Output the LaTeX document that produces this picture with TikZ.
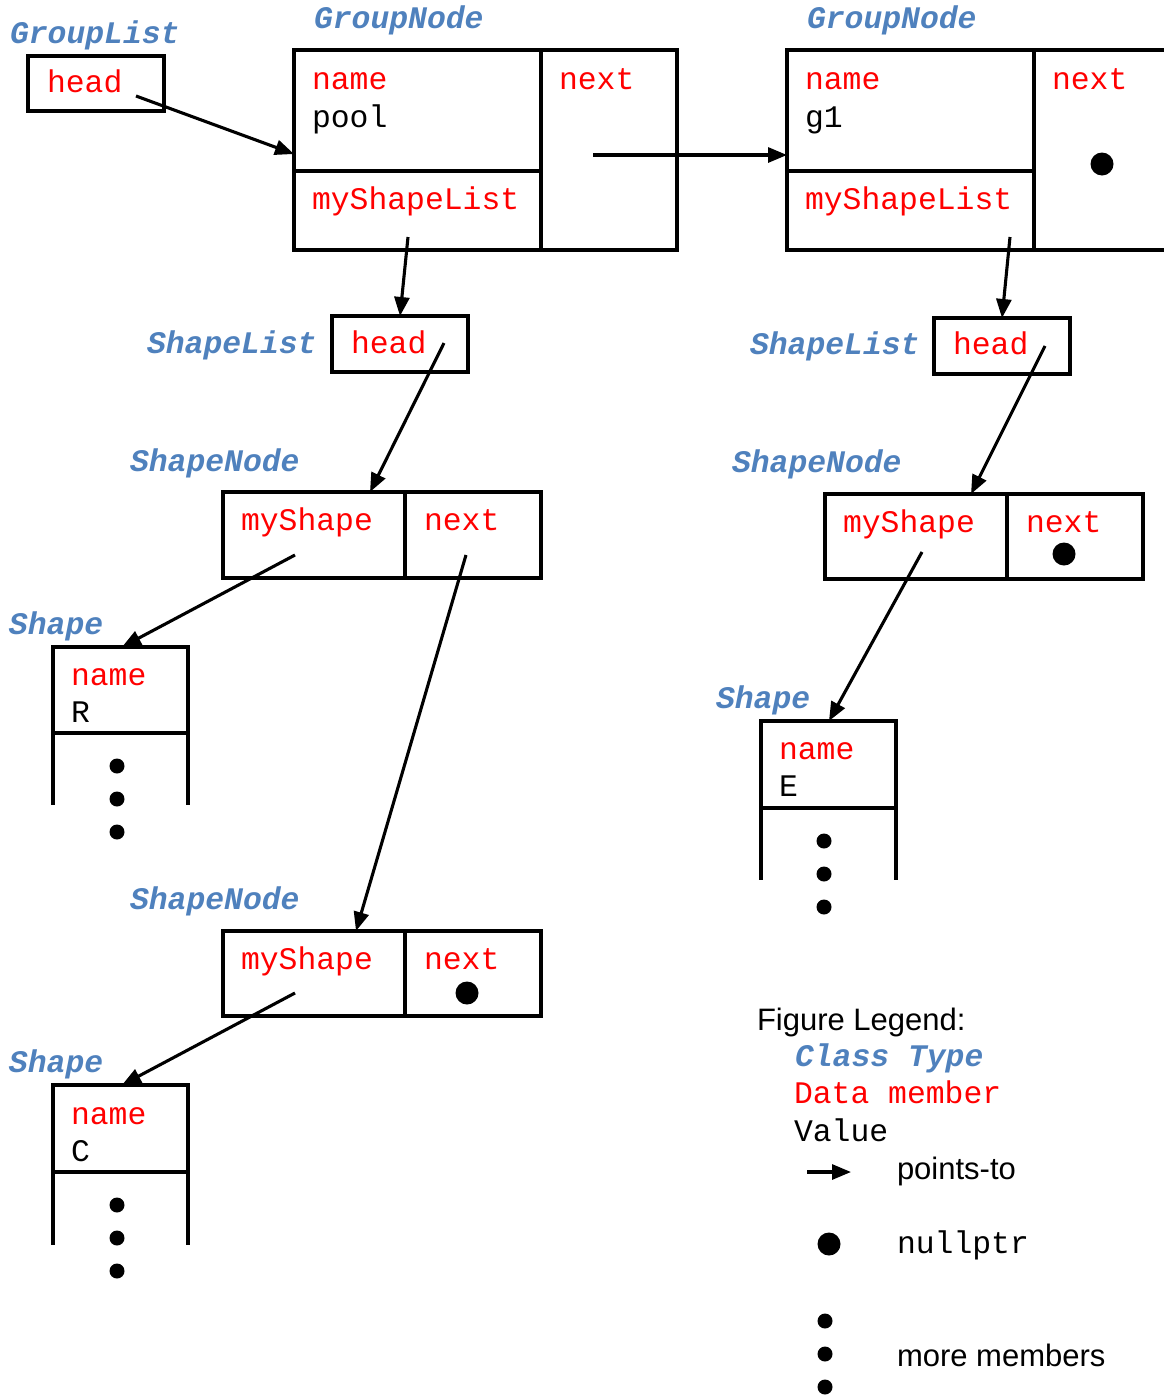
\documentclass[tikz,border=0pt]{standalone}
\usepackage{fontspec}
\setmainfont{Liberation Sans}
\setsansfont{Liberation Sans}
\setmonofont{Liberation Mono}
\usetikzlibrary{arrows.meta}
\definecolor{clsblue}{RGB}{79,129,189}
\definecolor{memred}{RGB}{255,0,0}
\tikzset{
  cell/.style={draw, line width=3.2pt, inner sep=0pt, outer sep=0pt},
  side/.style={line width=3.2pt},
  ptr/.style={line width=3.1pt, -{Triangle[length=19pt,width=15pt]}},
  txt/.style={anchor=base west, inner sep=0pt, outer sep=0pt},
  cls/.style={txt, text=clsblue, font=\fontsize{31.4}{36}\selectfont\ttfamily\bfseries\itshape},
  mem/.style={txt, text=memred, font=\fontsize{31.4}{36}\selectfont\ttfamily},
  val/.style={txt, text=black, font=\fontsize{31.4}{36}\selectfont\ttfamily},
  sans/.style={txt, text=black, font=\fontsize{31}{36}\selectfont\sffamily},
  bigdot/.style={fill=black, circle, inner sep=0pt, minimum size=23pt},
  smalldot/.style={fill=black, circle, inner sep=0pt, minimum size=15pt},
}
\begin{document}
\begin{tikzpicture}[x=1pt, y=-1pt]
\useasboundingbox (0,0) rectangle (1164,1395);
\clip (0,0) rectangle (1164,1395);

% ---------- GroupList ----------
\node[cls] (lblgl) at (10,43) {GroupList};
\node[cell, minimum width=136pt, minimum height=55pt] (gl) at (96,83.5) {};
\node[mem] (glhead) at (47,92) {head};

% ---------- GroupNode pool ----------
\node[cls] (lblgn1) at (314,28) {GroupNode};
\node[cell, minimum width=247pt, minimum height=121pt] (gn1name) at (417.5,110.5) {};
\node[cell, minimum width=247pt, minimum height=79pt] (gn1sl) at (417.5,210.5) {};
\node[cell, minimum width=136pt, minimum height=200pt] (gn1next) at (609,150) {};
\node[mem] (t1) at (312,89) {name};
\node[val] (t2) at (312,127) {pool};
\node[mem] (t3) at (559,89) {next};
\node[mem] (t4) at (312,209) {myShapeList};

% ---------- GroupNode g1 ----------
\node[cls] (lblgn2) at (807,28) {GroupNode};
\node[cell, minimum width=247pt, minimum height=121pt] (gn2name) at (910.5,110.5) {};
\node[cell, minimum width=247pt, minimum height=79pt] (gn2sl) at (910.5,210.5) {};
\node[cell, minimum width=166pt, minimum height=200pt] (gn2next) at (1117,150) {};
\node[mem] (t5) at (805,89) {name};
\node[val] (t6) at (805,127) {g1};
\node[mem] (t7) at (1052,89) {next};
\node[mem] (t8) at (805,209) {myShapeList};
\node[bigdot] (d1) at (1102,164) {};

% ---------- ShapeList left ----------
\node[cls] (lblsl1) at (147,353) {ShapeList};
\node[cell, minimum width=136pt, minimum height=56pt] (sl1) at (400,344) {};
\node[mem] (t9) at (351,353) {head};

% ---------- ShapeList right ----------
\node[cls] (lblsl2) at (750,354) {ShapeList};
\node[cell, minimum width=136pt, minimum height=56pt] (sl2) at (1002,346) {};
\node[mem] (t10) at (953,354) {head};

% ---------- ShapeNode left 1 ----------
\node[cls] (lblsn1) at (130,471) {ShapeNode};
\node[cell, minimum width=182pt, minimum height=86pt] (sn1s) at (314,535) {};
\node[cell, minimum width=136pt, minimum height=86pt] (sn1n) at (473,535) {};
\node[mem] (t11) at (241,530) {myShape};
\node[mem] (t12) at (424,530) {next};

% ---------- ShapeNode left 2 ----------
\node[cls] (lblsn2) at (130,909) {ShapeNode};
\node[cell, minimum width=182pt, minimum height=85pt] (sn2s) at (314,973.5) {};
\node[cell, minimum width=136pt, minimum height=85pt] (sn2n) at (473,973.5) {};
\node[mem] (t13) at (241,969) {myShape};
\node[mem] (t14) at (424,969) {next};
\node[bigdot] (d2) at (467,993) {};

% ---------- ShapeNode right ----------
\node[cls] (lblsn3) at (732,472) {ShapeNode};
\node[cell, minimum width=182pt, minimum height=85pt] (sn3s) at (916,536.5) {};
\node[cell, minimum width=136pt, minimum height=85pt] (sn3n) at (1075,536.5) {};
\node[mem] (t15) at (843,532) {myShape};
\node[mem] (t16) at (1026,532) {next};
\node[bigdot] (d3) at (1064,554) {};

% ---------- Shape R ----------
\node[cls] (lblsh1) at (9,634) {Shape};
\node[cell, minimum width=135pt, minimum height=86pt] (sh1) at (120.5,690) {};
\draw[side] (sh1.south west) -- ++(0,72);
\draw[side] (sh1.south east) -- ++(0,72);
\node[mem] (t17) at (71,685) {name};
\node[val] (t18) at (71,722) {R};
\node[smalldot] (e1) at (117,766) {};
\node[smalldot] (e2) at (117,799) {};
\node[smalldot] (e3) at (117,832) {};

% ---------- Shape C ----------
\node[cls] (lblsh2) at (9,1072) {Shape};
\node[cell, minimum width=135pt, minimum height=87pt] (sh2) at (120.5,1128.5) {};
\draw[side] (sh2.south west) -- ++(0,73);
\draw[side] (sh2.south east) -- ++(0,73);
\node[mem] (t19) at (71,1124) {name};
\node[val] (t20) at (71,1161) {C};
\node[smalldot] (e4) at (117,1205) {};
\node[smalldot] (e5) at (117,1238) {};
\node[smalldot] (e6) at (117,1271) {};

% ---------- Shape E ----------
\node[cls] (lblsh3) at (716,708) {Shape};
\node[cell, minimum width=135pt, minimum height=87pt] (sh3) at (828.5,764.5) {};
\draw[side] (sh3.south west) -- ++(0,72);
\draw[side] (sh3.south east) -- ++(0,72);
\node[mem] (t21) at (779,759) {name};
\node[val] (t22) at (779,796) {E};
\node[smalldot] (e7) at (824,841) {};
\node[smalldot] (e8) at (824,874) {};
\node[smalldot] (e9) at (824,907) {};

% ---------- pointer tails / heads ----------
\coordinate (a1) at (136,96);   \coordinate (b1) at (294,154);
\coordinate (a2) at (593,155);  \coordinate (b2) at (787,155);
\coordinate (a3) at (408,237);  \coordinate (b3) at (400,316);
\coordinate (a4) at (444,343);  \coordinate (b4) at (370,492);
\coordinate (a5) at (295,555);  \coordinate (b5) at (122,647);
\coordinate (a6) at (466,555);  \coordinate (b6) at (356,931);
\coordinate (a7) at (295,993);  \coordinate (b7) at (122,1085);
\coordinate (a8) at (1010,237); \coordinate (b8) at (1002,318);
\coordinate (a9) at (1045,346); \coordinate (b9) at (971,494);
\coordinate (a10) at (922,552); \coordinate (b10) at (829,721);

\draw[ptr] (a1) -- (b1);
\draw[ptr] (a2) -- (b2);
\draw[ptr] (a3) -- (b3);
\draw[ptr] (a4) -- (b4);
\draw[ptr] (a5) -- (b5);
\draw[ptr] (a6) -- (b6);
\draw[ptr] (a7) -- (b7);
\draw[ptr] (a8) -- (b8);
\draw[ptr] (a9) -- (b9);
\draw[ptr] (a10) -- (b10);

% ---------- Legend ----------
\node[sans] (lg0) at (757,1030) {Figure Legend:};
\node[cls] (lg1) at (795,1066) {Class Type};
\node[mem] (lg2) at (794,1103) {Data member};
\node[val] (lg3) at (794,1141) {Value};
\coordinate (la) at (807,1172);
\coordinate (lb) at (851,1172);
\draw[ptr] (la) -- (lb);
\node[sans] (lg4) at (897,1179) {points-to};
\node[bigdot] (lgd) at (829,1244) {};
\node[val] (lg5) at (897,1253) {nullptr};
\node[smalldot] (lge1) at (825,1321) {};
\node[smalldot] (lge2) at (825,1354) {};
\node[smalldot] (lge3) at (825,1387) {};
\node[sans] (lg6) at (897,1366) {more members};
\end{tikzpicture}
\end{document}
